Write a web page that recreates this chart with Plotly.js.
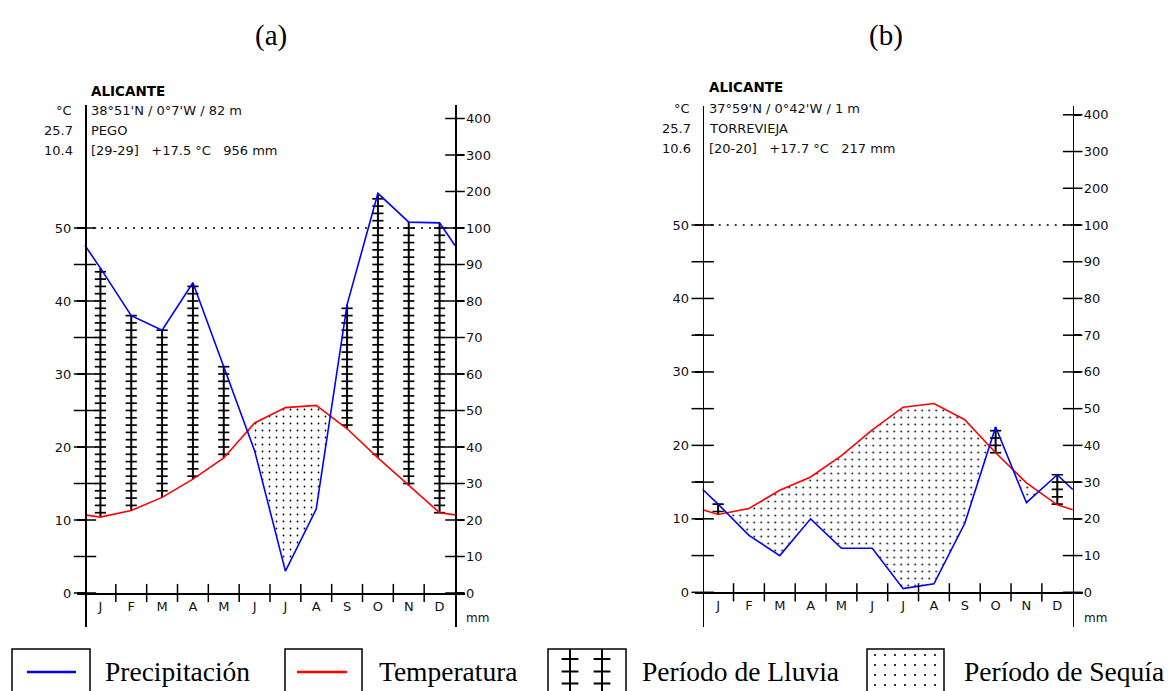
<!DOCTYPE html>
<html>
<head>
<meta charset="utf-8">
<script src="https://cdn.plot.ly/plotly-3.0.1.min.js"></script>
<style>html,body{margin:0;padding:0;background:#fff}</style>
</head>
<body>
<div id="chart" style="width:1169px;height:691px"></div>
<script>
// ---- data ---------------------------------------------------------------
const months = ['J', 'F', 'M', 'A', 'M', 'J', 'J', 'A', 'S', 'O', 'N', 'D'];

// Pego (Alicante): monthly precipitation (mm) and mean temperature (°C)
const precipPego = [89, 76, 72, 85, 62, 39, 6, 23, 79, 195, 116, 114];
const tempPego = [10.4, 11.3, 13.1, 15.6, 18.5, 23.3, 25.4, 25.7, 22.5, 18.5, 14.7, 11.0];

// Torrevieja (Alicante)
const precipTorrevieja = [24, 15.5, 10, 20, 12, 12, 1, 2.3, 18.8, 45, 24.4, 32];
const tempTorrevieja = [10.6, 11.4, 13.9, 15.7, 18.6, 22.1, 25.2, 25.7, 23.5, 19.0, 14.9, 11.9];

// axis ticks
const tempTickVals = [0, 5, 10, 15, 20, 25, 30, 35, 40, 45, 50];
const tempTickText = ['0', '', '10', '', '20', '', '30', '', '40', '', '50'];
const mmTickVals = [0, 10, 20, 30, 40, 50, 60, 70, 80, 90, 100, 200, 300, 400];
const mmTickText = ['0', '10', '20', '30', '40', '50', '60', '70', '80', '90', '100', '200', '300', '400'];

// station headers
const stationRegion = 'ALICANTE';
const headerPego = { coords: "38°51'N / 0°7'W / 82 m", name: 'PEGO', years: '[29-29]', meanT: '+17.5 °C', total: '956 mm', tMax: '25.7', tMin: '10.4' };
const headerTorrevieja = { coords: "37°59'N / 0°42'W / 1 m", name: 'TORREVIEJA', years: '[20-20]', meanT: '+17.7 °C', total: '217 mm', tMax: '25.7', tMin: '10.6' };

const panelTitles = ['(a)', '(b)'];
const legendLabels = ['Precipitación', 'Temperatura', 'Período de Lluvia', 'Período de Sequía'];

// ---- helpers ------------------------------------------------------------
const W = 1169, H = 691;
const fx = px => px / W;
const fy = py => 1 - py / H;

// Walter-Lieth scale: 20 mm = 10 °C up to 100 mm, then 1/10 compression
const scaleP = p => (p <= 100 ? p / 2 : 50 + (p - 100) / 20);

const BLUE = '#0000ff', RED = '#ff0000';
const SANS = 'DejaVu Sans, Verdana, sans-serif';
const SERIF = 'Liberation Serif, Times New Roman, serif';

// panel frames (pixels)
const frames = [
  { left: 85, right: 455, zero: 593, fifty: 228, top: 105, bottom: 627, titleX: 271,
    rows: [90.5, 110.7, 130, 150] },
  { left: 702.7, right: 1072.7, zero: 592.3, fifty: 225, top: 106, bottom: 627, titleX: 886,
    rows: [87, 108.3, 128.3, 148.3] }
];

function dryRegions(xs, t, p) {
  const regions = [];
  let cur = null;
  for (let i = 0; i < xs.length; i++) {
    const d = t[i] - p[i];
    if (i > 0) {
      const dp = t[i - 1] - p[i - 1];
      if ((dp > 0) !== (d > 0)) {
        const f = dp / (dp - d);
        const xc = xs[i - 1] + f * (xs[i] - xs[i - 1]);
        const yc = t[i - 1] + f * (t[i] - t[i - 1]);
        if (cur) { cur.push({ x: xc, t: yc, p: yc }); regions.push(cur); cur = null; }
        else cur = [{ x: xc, t: yc, p: yc }];
      }
    }
    if (d > 0) { if (!cur) cur = []; cur.push({ x: xs[i], t: t[i], p: p[i] }); }
  }
  if (cur) regions.push(cur);
  return regions;
}

const traces = [];
const layout = {
  width: W, height: H,
  margin: { l: 0, r: 0, t: 0, b: 0 },
  paper_bgcolor: '#fff', plot_bgcolor: 'rgba(0,0,0,0)',
  showlegend: false,
  annotations: [], shapes: []
};

function buildPanel(k, temp, precip, header) {
  const g = frames[k];
  const xa = k === 0 ? 'x' : 'x2';
  const ya = k === 0 ? 'y' : 'y2';
  const yr = k === 0 ? 'y3' : 'y4';
  const xName = k === 0 ? 'xaxis' : 'xaxis2';
  const yName = k === 0 ? 'yaxis' : 'yaxis2';
  const yrName = k === 0 ? 'yaxis3' : 'yaxis4';

  const unit = (g.zero - g.fifty) / 50;
  const mw = (g.right - g.left) / 12;
  const xRange = [-8 / mw, 12 + 10 / mw];
  const yRange = [-(g.bottom - g.zero) / unit, (g.zero - g.top) / unit];
  const yDomain = [fy(g.bottom), fy(g.top)];

  const tick = { family: SANS, size: 13, color: '#111' };

  layout[xName] = {
    domain: [fx(g.left - 8), fx(g.right + 10)], range: xRange,
    anchor: 'free', position: fy(g.zero),
    showline: true, linecolor: '#000', linewidth: 1.5,
    tickvals: months.map((_, i) => i + 0.5), ticktext: months,
    ticks: 'outside', ticklen: 1, tickcolor: 'rgba(0,0,0,0)',
    tickfont: tick, showgrid: false, zeroline: false, fixedrange: true
  };
  layout[yName] = {
    domain: yDomain, range: yRange, anchor: 'free', position: fx(g.left),
    showline: true, linecolor: '#000', linewidth: 1.5,
    tickvals: tempTickVals, ticktext: tempTickText,
    ticks: 'outside', ticklen: 8, tickwidth: 1.5, tickcolor: '#000',
    ticklabelstandoff: 3,
    tickfont: tick, showgrid: false, zeroline: false, fixedrange: true
  };
  layout[yrName] = {
    overlaying: ya, side: 'right', range: yRange, anchor: 'free', position: fx(g.right),
    showline: true, linecolor: '#000', linewidth: 1.5,
    tickvals: mmTickVals.map(scaleP), ticktext: mmTickText,
    ticks: 'outside', ticklen: 7, tickwidth: 1.5, tickcolor: '#000',
    tickfont: tick, showgrid: false, zeroline: false, fixedrange: true
  };

  // curves extended to the frame edges with the Dec/Jan mean
  const xs = [0, ...months.map((_, i) => i + 0.5), 12];
  const pw = precip.map(scaleP);
  const ext = v => { const e = (v[0] + v[11]) / 2; return [e, ...v, e]; };
  const tLine = ext(temp), pLine = ext(pw);

  // dry period (dotted)
  dryRegions(xs, tLine, pLine).forEach(r => {
    const px = r.map(d => d.x), back = r.slice().reverse();
    traces.push({
      type: 'scatter', mode: 'lines', xaxis: xa, yaxis: ya,
      x: px.concat(back.map(d => d.x)),
      y: r.map(d => d.t).concat(back.map(d => d.p)),
      fill: 'toself', fillcolor: '#fff',
      fillpattern: { shape: '.', size: 7, solidity: 0.05, fgcolor: '#000', bgcolor: '#fff' },
      line: { width: 0 }, hoverinfo: 'skip'
    });
  });

  // humid period (hatched bars)
  const hx = [], hy = [], mx = [], my = [];
  months.forEach((_, i) => {
    if (pw[i] > temp[i]) {
      const c = i + 0.5;
      hx.push(c, c, null); hy.push(temp[i], pw[i], null);
      for (let v = Math.ceil(temp[i]); v <= pw[i]; v += 1) { mx.push(c); my.push(v); }
    }
  });
  traces.push({ type: 'scatter', mode: 'lines', xaxis: xa, yaxis: ya, x: hx, y: hy,
    line: { color: '#000', width: 2 }, hoverinfo: 'skip' });
  traces.push({ type: 'scatter', mode: 'markers', xaxis: xa, yaxis: ya, x: mx, y: my,
    marker: { symbol: 'line-ew', size: 8, line: { color: '#000', width: 1.7 } }, hoverinfo: 'skip' });

  // temperature and precipitation curves
  traces.push({ type: 'scatter', mode: 'lines', xaxis: xa, yaxis: ya, x: xs, y: tLine,
    line: { color: RED, width: 1.6 }, hoverinfo: 'skip' });
  traces.push({ type: 'scatter', mode: 'lines', xaxis: xa, yaxis: ya, x: xs, y: pLine,
    line: { color: BLUE, width: 1.6 }, hoverinfo: 'skip' });

  // cross-shaped axis ticks
  traces.push({ type: 'scatter', mode: 'markers', xaxis: xa, yaxis: ya,
    x: tempTickVals.map(() => 0), y: tempTickVals,
    marker: { symbol: 'line-ew', size: 16, line: { color: '#000', width: 1.5 } }, hoverinfo: 'skip', cliponaxis: false });
  traces.push({ type: 'scatter', mode: 'markers', xaxis: xa, yaxis: yr,
    x: mmTickVals.map(() => 12), y: mmTickVals.map(scaleP),
    marker: { symbol: 'line-ew', size: 14, line: { color: '#000', width: 1.5 } }, hoverinfo: 'skip', cliponaxis: false });
  traces.push({ type: 'scatter', mode: 'markers', xaxis: xa, yaxis: ya,
    x: months.slice(1).map((_, i) => i + 1), y: months.slice(1).map(() => 0),
    marker: { symbol: 'line-ns', size: 13, line: { color: '#000', width: 1.5 } }, hoverinfo: 'skip', cliponaxis: false });

  // 100 mm reference line
  layout.shapes.push({ type: 'line', xref: xa, yref: ya, x0: 0, x1: 12, y0: scaleP(100), y1: scaleP(100),
    line: { color: '#000', width: 1.3, dash: '2px,6px' } });

  // header text
  const A = layout.annotations;
  const txt = (s, xpx, ypx, anchor, font) => A.push({ text: s, xref: 'paper', yref: 'paper',
    x: fx(xpx), y: fy(ypx), xanchor: anchor, yanchor: 'middle', showarrow: false, font: font });
  const f = { family: SANS, size: 13, color: '#111' };
  txt('<b>' + stationRegion + '</b>', g.left + 4, g.rows[0], 'left', { family: SANS, size: 13.5, color: '#000' });
  txt('°C', g.left - 11, g.rows[1], 'right', f);
  txt(header.coords, g.left + 4, g.rows[1], 'left', f);
  txt(header.tMax, g.left - 10, g.rows[2], 'right', f);
  txt(header.name, g.left + 4, g.rows[2], 'left', f);
  txt(header.tMin, g.left - 10, g.rows[3], 'right', f);
  txt(header.years + '   ' + header.meanT + '   ' + header.total, g.left + 4, g.rows[3], 'left', f);
  txt('mm', g.right + 9, 618, 'left', { family: SANS, size: 12, color: '#111' });
  txt(panelTitles[k], g.titleX, 35, 'center', { family: SERIF, size: 29, color: '#000' });
}

buildPanel(0, tempPego, precipPego, headerPego);
buildPanel(1, tempTorrevieja, precipTorrevieja, headerTorrevieja);

// ---- key strip at the bottom (pixel-unit axes) ----------------------------
layout.xaxis5 = { domain: [0, 1], range: [0, W], visible: false, anchor: 'y5', fixedrange: true };
layout.yaxis5 = { domain: [0, (H - 640) / H], range: [H, 640], visible: false, anchor: 'x5', fixedrange: true };

const keyBoxes = [[12, 90], [285, 362], [548, 626], [867, 944]];
const keyTextX = [103, 377, 640, 962];
const boxTop = 649, boxBottom = 700;

// dotted sample
traces.push({ type: 'scatter', mode: 'lines', xaxis: 'x5', yaxis: 'y5',
  x: [keyBoxes[3][0], keyBoxes[3][1], keyBoxes[3][1], keyBoxes[3][0], keyBoxes[3][0]],
  y: [boxBottom, boxBottom, boxTop, boxTop, boxBottom],
  fill: 'toself', fillcolor: '#fff',
  fillpattern: { shape: '.', size: 10, solidity: 0.035, fgcolor: '#000', bgcolor: '#fff' },
  line: { width: 0 }, hoverinfo: 'skip' });

// box outlines
const bx = [], by = [];
keyBoxes.forEach(([a, b]) => { bx.push(a, a, b, b, null); by.push(boxBottom, boxTop, boxTop, boxBottom, null); });
traces.push({ type: 'scatter', mode: 'lines', xaxis: 'x5', yaxis: 'y5', x: bx, y: by,
  line: { color: '#000', width: 1.5 }, hoverinfo: 'skip' });

// line samples
traces.push({ type: 'scatter', mode: 'lines', xaxis: 'x5', yaxis: 'y5', x: [27, 76], y: [672, 672],
  line: { color: BLUE, width: 2.5 }, hoverinfo: 'skip' });
traces.push({ type: 'scatter', mode: 'lines', xaxis: 'x5', yaxis: 'y5', x: [297, 347], y: [672, 672],
  line: { color: RED, width: 2.5 }, hoverinfo: 'skip' });

// hatch sample
const hatchX = [570, 602], hatchY = [659, 671.5, 683.5];
traces.push({ type: 'scatter', mode: 'lines', xaxis: 'x5', yaxis: 'y5',
  x: [hatchX[0], hatchX[0], null, hatchX[1], hatchX[1]], y: [boxTop, boxBottom, null, boxTop, boxBottom],
  line: { color: '#000', width: 2 }, hoverinfo: 'skip' });
traces.push({ type: 'scatter', mode: 'markers', xaxis: 'x5', yaxis: 'y5',
  x: hatchX.flatMap(v => hatchY.map(() => v)), y: hatchX.flatMap(() => hatchY),
  marker: { symbol: 'line-ew', size: 12, line: { color: '#000', width: 2 } }, hoverinfo: 'skip' });

legendLabels.forEach((s, i) => layout.annotations.push({
  text: s, xref: 'paper', yref: 'paper', x: fx(keyTextX[i]), y: fy(671),
  xanchor: 'left', yanchor: 'middle', showarrow: false,
  font: { family: SERIF, size: 27.5, color: '#000' }
}));

Plotly.newPlot('chart', traces, layout, { staticPlot: true, displayModeBar: false });
</script>
</body>
</html>
